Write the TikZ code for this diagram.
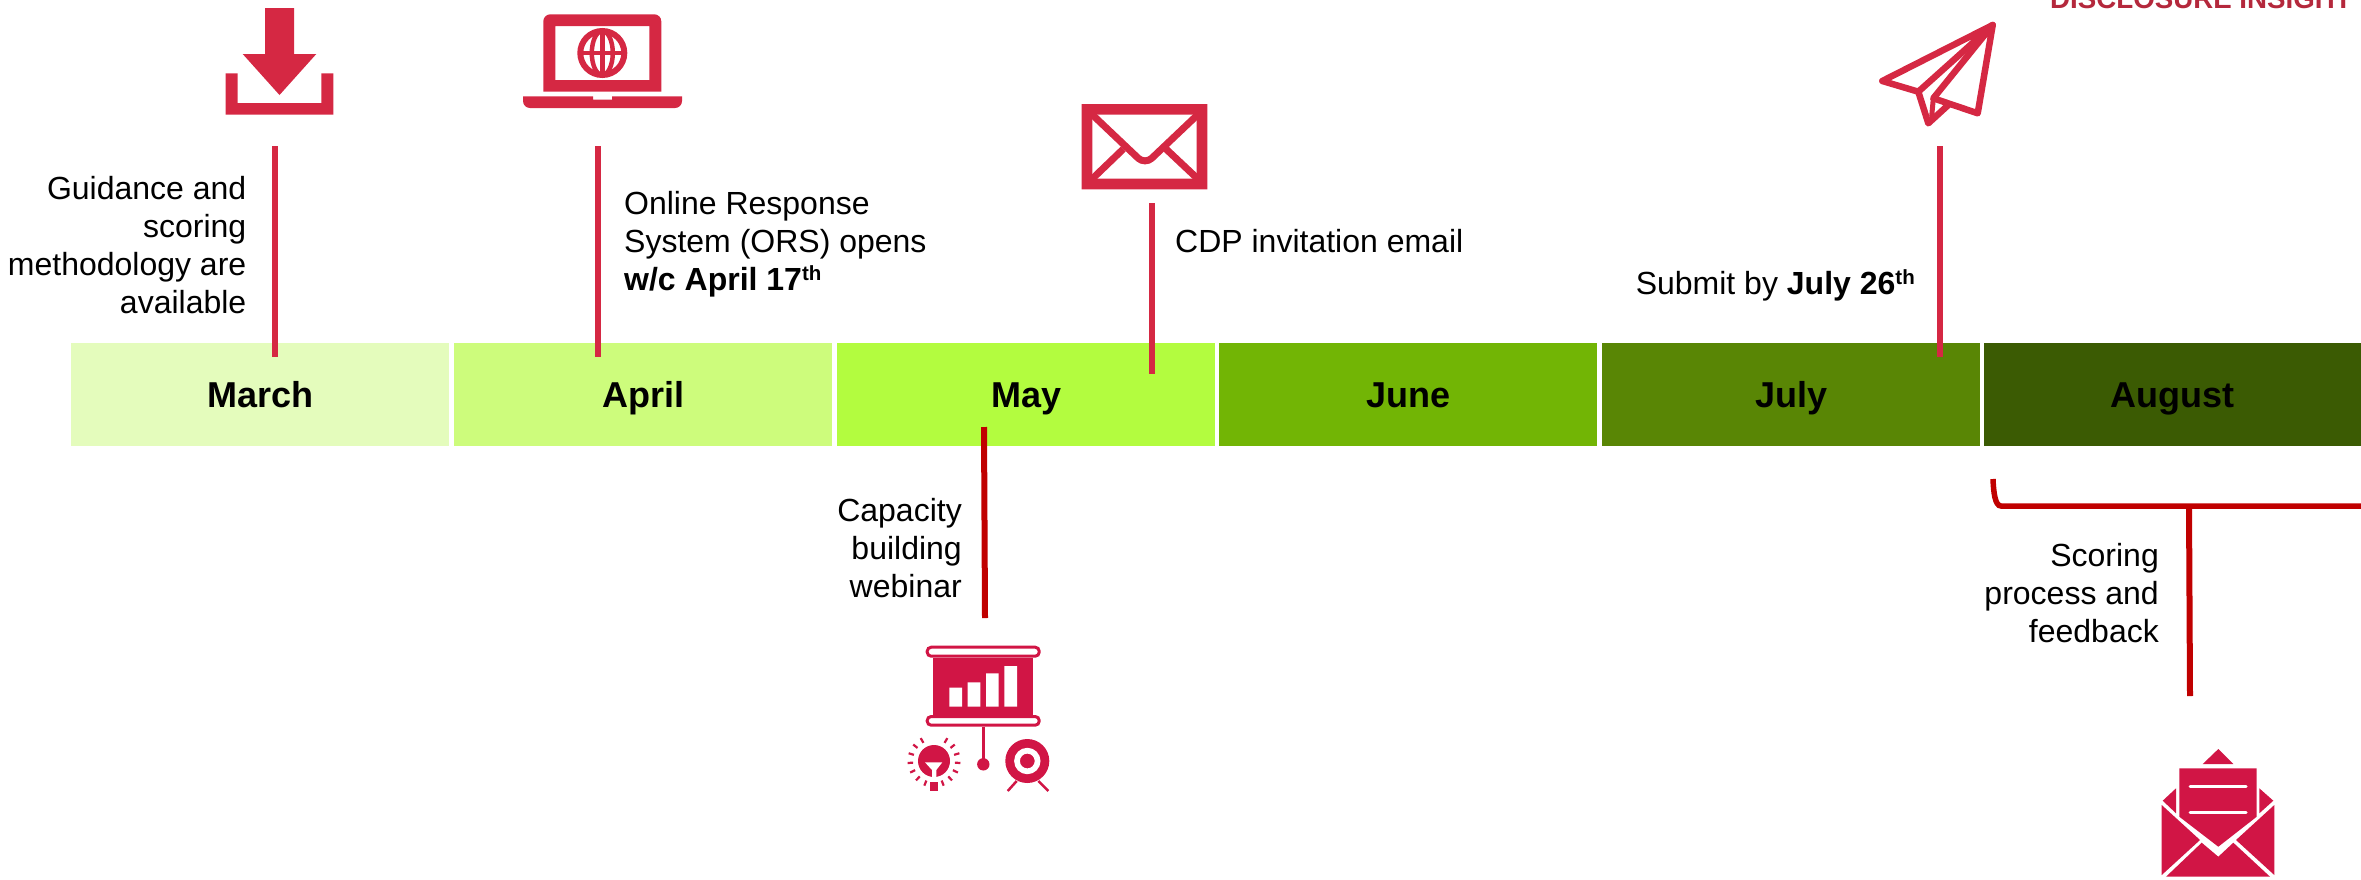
\documentclass[tikz,border=0pt]{standalone}
\usepackage{fontspec}
\usetikzlibrary{calc}
\setmainfont{Liberation Sans}
\definecolor{iconred}{HTML}{D52843}
\definecolor{crim}{HTML}{D11545}
\definecolor{darkred}{HTML}{C00000}
\definecolor{logored}{HTML}{B4283C}
\definecolor{mMar}{HTML}{E4FCBC}
\definecolor{mApr}{HTML}{CDFC7C}
\definecolor{mMay}{HTML}{B3FC3F}
\definecolor{mJun}{HTML}{72B505}
\definecolor{mJul}{HTML}{598605}
\definecolor{mAug}{HTML}{3B5B03}
\newcommand{\supth}{\raisebox{10pt}{\fontsize{20.5}{20.5}\selectfont th}}
\tikzset{
  monthbar/.style={anchor=north west,minimum width=378pt,minimum height=103pt,inner sep=0pt,
    text height=26pt,text depth=0pt,font=\fontsize{36}{40}\selectfont\bfseries,text=black},
  lbl/.style={inner sep=0pt,font=\fontsize{32}{38}\selectfont},
  lblr/.style={lbl,align=right,anchor=base east},
  lbll/.style={lbl,align=left,anchor=base west},
  stem/.style={draw=iconred,line width=6pt},
  stemdark/.style={draw=darkred,line width=6pt},
  plane/.style={draw=iconred,line width=6.5pt,line join=round,line cap=round},
}
\begin{document}
\begin{tikzpicture}[x=1pt,y=-1pt]
\useasboundingbox (0,0) rectangle (2361,879);
\clip (0,0) rectangle (2361,879);
% month bars
\node[monthbar,fill=mMar] (march) at (71,343) {March};
\node[monthbar,fill=mApr] (april) at (454,343) {April};
\node[monthbar,fill=mMay] (may) at (837,343) {May};
\node[monthbar,fill=mJun] (june) at (1219,343) {June};
\node[monthbar,fill=mJul] (july) at (1602,343) {July};
\node[monthbar,fill=mAug,minimum width=377pt] (august) at (1984,343) {August};
% stems
\coordinate (c1a) at (274.7,146); \coordinate (c1b) at (274.7,357);
\coordinate (c2a) at (598,146); \coordinate (c2b) at (598,357);
\coordinate (c3a) at (1152.3,203); \coordinate (c3b) at (1152.3,374);
\coordinate (c4a) at (1940,146); \coordinate (c4b) at (1940,357);
\coordinate (c5a) at (984,427); \coordinate (c5b) at (985,618);
\draw[stem] (c1a) -- (c1b);
\draw[stem] (c2a) -- (c2b);
\draw[stem] (c3a) -- (c3b);
\draw[stem] (c4a) -- (c4b);
\draw[stemdark] (c5a) -- (c5b);
% bracket
\coordinate (b0) at (1993,479); \coordinate (b1) at (2001,506); \coordinate (b2) at (2365,506);
\coordinate (b3) at (2189,506); \coordinate (b4) at (2190,696);
\draw[stemdark,line width=5.5pt] (b0) .. controls (1993.5,492) and (1995,506) .. (b1) -- (b2);
\draw[stemdark] (b3) -- (b4);
% labels (anchored at the baseline of the last line)
\node[lblr] (tguid) at (246.5,313) {Guidance and\\scoring\\methodology are\\available};
\node[lbll] (tors) at (624,290) {Online Response\\System (ORS) opens\\\textbf{w/c April 17\supth}};
\node[lbll] (tcdp) at (1175,252) {CDP invitation email};
\node[lblr] (tsub) at (1915,294) {Submit by \textbf{July 26\supth}};
\node[lblr] (tcap) at (962,597) {Capacity\\building\\webinar};
\node[lblr] (tsco) at (2159,642) {Scoring\\process and\\feedback};
\node[anchor=base east,inner sep=0pt,text=logored,font=\fontsize{27.7}{30}\selectfont\bfseries] (logo) at (2352,8.5) {DISCLOSURE INSIGHT};
% download icon
\fill[iconred] (265,8) -- (294,8) -- (294,54) -- (316.3,54) -- (279.5,95) -- (242.7,54) -- (265,54) -- cycle;
\fill[iconred] (225.7,73.3) -- (237.7,73.3) -- (237.7,103) -- (321.3,103) -- (321.3,73.3) -- (333.3,73.3) -- (333.3,114.7) -- (225.7,114.7) -- cycle;
% laptop icon
\fill[iconred,even odd rule]
  (543.3,91.7) [rounded corners=7pt] -- (543.3,14.3) -- (661.3,14.3) [sharp corners] -- (661.3,91.7) -- cycle
  (555.3,26) rectangle (649.3,80);
\fill[iconred] (523,96.3) -- (593,96.3) -- (593,99.7) -- (612,99.7) -- (612,96.3) -- (682,96.3) [rounded corners=7pt] -- (682,108) -- (523,108) [sharp corners] -- cycle;
\begin{scope}[draw=iconred]
\draw[line width=6pt] (602.3,53) circle[radius=22];
\draw[line width=4.5pt] (602.3,53) ellipse[x radius=10.5,y radius=22];
\draw[line width=4.5pt] (602.3,31) -- (602.3,75);
\draw[line width=4.5pt] (580.3,53) -- (624.3,53);
\end{scope}
% mail icon
\begin{scope}
\clip (1081.7,104) rectangle (1207.3,189.3);
\draw[iconred,line width=7pt] (1090,112.5) -- (1138.3,158.3) .. controls (1142,161.7) and (1148,161.7) .. (1151.7,158.3) -- (1200,112.5);
\draw[iconred,line width=7pt] (1090,181) -- (1123.3,149);
\draw[iconred,line width=7pt] (1200,181) -- (1166,149);
\end{scope}
\fill[iconred,even odd rule] (1081.7,104) rectangle (1207.3,189.3) (1092.3,114.7) rectangle (1196.7,178.7);
% paper plane icon
\draw[plane] (1992.7,25) -- (1882.3,81) -- (1918.3,91.7) -- cycle;
\draw[plane] (1918.3,91.7) -- (1928.3,123.3) -- (1948.3,105);
\draw[plane] (1992.7,25) -- (1977.7,113.3) -- (1933.3,98.3) -- cycle;
\draw[plane,line width=5pt] (1933.3,98.3) -- (1931.7,116);
% presentation icon
\draw[crim,line width=3pt,rounded corners=4pt] (927.2,647.2) rectangle (1039.2,656.2);
\draw[crim,line width=3pt,rounded corners=4pt] (927.2,716.5) rectangle (1039.2,725.2);
\fill[crim] (933.3,657.7) rectangle (1033.3,715);
\fill[white] (949.3,687.7) rectangle (962,706.7)
  (967.7,682.3) rectangle (980.3,706.7)
  (986,673.3) rectangle (998.7,706.7)
  (1004.3,666) rectangle (1017,706.7);
\draw[crim,line width=2.5pt] (983.3,726.7) -- (983.3,762);
\fill[crim] (983.3,764.3) circle[radius=6.2];
\fill[crim] (934,761) circle[radius=16];
\fill[white] (925,762.3) -- (942.3,762.3) -- (936.3,770) -- (936.3,778) -- (932,778) -- (932,770) -- cycle;
\fill[crim] (930,782) rectangle (937.7,790.7);
\foreach \k in {-7,...,7}
  \draw[crim,line width=2.2pt] ($(934,761)+({90+21.4*\k}:21)$) -- ($(934,761)+({90+21.4*\k}:26.5)$);
\fill[crim] (1027.3,761) circle[radius=22];
\draw[white,line width=5.7pt] (1027.3,761) circle[radius=10.3];
\draw[crim,line width=2.5pt] (1016.7,781) -- (1007.7,791);
\draw[crim,line width=2.5pt] (1038.3,781) -- (1048.3,791);
% open envelope icon
\fill[crim] (2202.7,764) -- (2218.3,749) -- (2233.3,764) -- cycle;
\fill[crim] (2179.3,768.3) -- (2256.7,768.3) -- (2256.7,816.7) -- (2218.3,846.7) -- (2179.3,816.7) -- cycle;
\draw[white,line width=3pt,line cap=round] (2190,786.7) -- (2246,786.7);
\draw[white,line width=3pt,line cap=round] (2190,812.7) -- (2246,812.7);
\fill[crim] (2176,788.3) -- (2176,813.3) -- (2162.7,800.7) -- cycle;
\fill[crim] (2259.3,788.3) -- (2259.3,813.3) -- (2273.3,800.7) -- cycle;
\fill[crim] (2161.7,805) -- (2200,840) -- (2161.7,875) -- cycle;
\fill[crim] (2274.3,805) -- (2236,840) -- (2274.3,875) -- cycle;
\fill[crim] (2201.7,842.7) -- (2218.3,856.7) -- (2233.3,842.7) -- (2270,876.7) -- (2166,876.7) -- cycle;
\end{tikzpicture}
\end{document}
